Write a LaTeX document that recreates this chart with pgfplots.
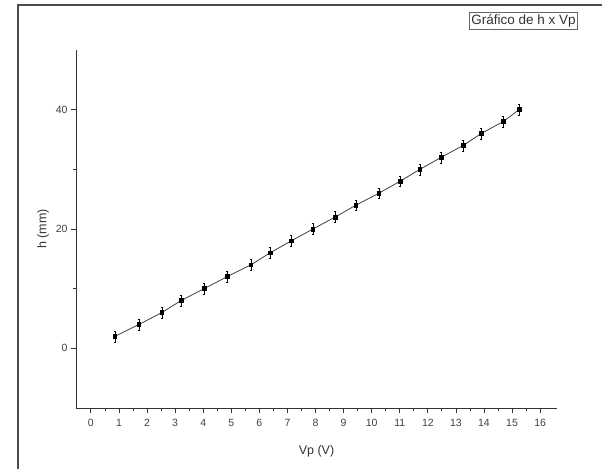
\documentclass[border=0pt]{standalone}
\usepackage{pgfplots}
\pgfplotsset{compat=1.18}
\usepackage{fontspec}
\setmainfont{Liberation Sans}

\begin{document}
\begin{tikzpicture}[x=1pt,y=1pt]
  % page extent and outer frame
  \path[use as bounding box] (0,0) rectangle (602,469);
  \draw[line width=1.6pt, black!70] (18,0) -- (18,464) -- (602,464);
  \begin{axis}[
    at={(76pt,61pt)}, anchor=south west,
    scale only axis,
    width=481pt, height=358pt,
    xmin=-0.53, xmax=16.6,
    ymin=-10, ymax=50,
    axis x line*=bottom, axis y line*=left,
    axis line style={line width=1pt, black!80, -},
    xtick={0,...,16},
    minor x tick num=1,
    ytick={0,20,40},
    minor y tick num=1,
    tick align=outside,
    major tick length=5pt, minor tick length=3pt,
    tick style={black!80, line width=0.8pt},
    tick label style={font=\fontsize{10.5}{11}\selectfont, text=black!75},
    xticklabel style={yshift=-3pt},
    /pgf/number format/assume math mode=true,
    xlabel={Vp (V)}, ylabel={h (mm)},
    label style={font=\fontsize{12.5}{13}\selectfont, text=black!80},
    xlabel style={yshift=-12pt},
    ylabel style={yshift=0pt},
    clip=false,
  ]
    \addplot[black!75, line width=0.8pt,
      mark=square*, mark size=1.9pt, mark options={black, solid},
      error bars/.cd, y dir=both, y explicit,
      error bar style={black, line width=0.7pt},
      error mark options={rotate=90, mark size=1.2pt, black}]
      table[x=V, y=h, y error=e] {
        V      h   e
        0.855  2   0.9
        1.71   4   0.9
        2.53   6   0.9
        3.21   8   0.9
        4.03   10  0.9
        4.85   12  0.9
        5.70   14  0.9
        6.38   16  0.9
        7.13   18  0.9
        7.91   20  0.9
        8.70   22  0.9
        9.44   24  0.9
        10.26  26  0.9
        11.01  28  0.9
        11.72  30  0.9
        12.47  32  0.9
        13.26  34  0.9
        13.90  36  0.9
        14.68  38  0.9
        15.25  40  0.9
      };
  \end{axis}
  % series caption box in the upper right corner
  \node[draw=black!60, line width=0.8pt, fill=white, anchor=north west,
        inner sep=2pt, font=\fontsize{13.5}{14}\selectfont, text=black!80]
        at (469,457) {Gráfico de h x Vp};
\end{tikzpicture}
\end{document}
